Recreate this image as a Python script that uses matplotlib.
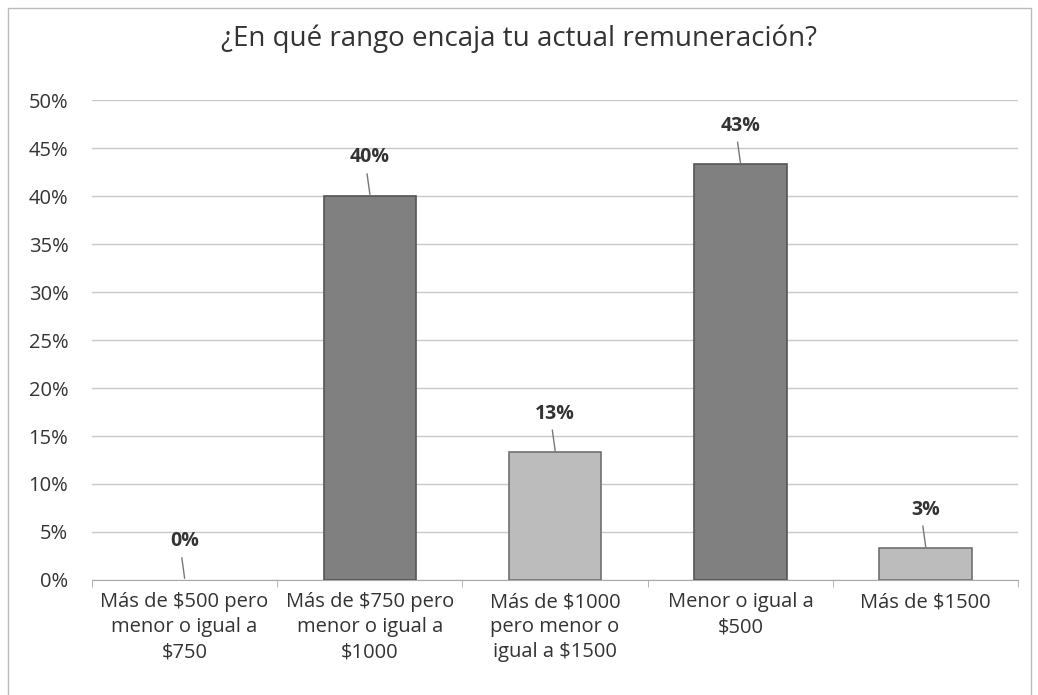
import matplotlib
matplotlib.use("Agg")
import matplotlib.pyplot as plt
from matplotlib.patches import Rectangle

categories = ["Más de $500 pero\nmenor o igual a\n$750",
              "Más de $750 pero\nmenor o igual a\n$1000",
              "Más de $1000\npero menor o\nigual a $1500",
              "Menor o igual a\n$500",
              "Más de $1500"]
values = [0.0, 40.0, 13.3, 43.3, 3.3]
labels = ["0%", "40%", "13%", "43%", "3%"]
bar_colors = ["#808080", "#808080", "#bcbcbc", "#808080", "#bcbcbc"]
edge_colors = ["#555555", "#555555", "#707070", "#555555", "#707070"]
yticks = [0, 5, 10, 15, 20, 25, 30, 35, 40, 45, 50]

plt.rcParams['font.family'] = ['Open Sans', 'DejaVu Sans']

fig = plt.figure(figsize=(10.38, 6.95), dpi=100)
ax = fig.add_axes([0.0886, 0.1655, 0.8924, 0.6905])

x = list(range(len(categories)))
lws = [0 if v == 0 else 1.2 for v in values]
ax.bar(x, values, width=0.5, color=bar_colors, edgecolor=edge_colors, linewidth=lws, zorder=3)

for xi, v, lab in zip(x, values, labels):
    ax.plot([xi, xi - 0.015], [v + 0.2, v + 2.3], color="#777777", lw=1.0, zorder=4)
    ax.text(xi, v + 3.0, lab, ha="center", va="bottom", fontsize=14, fontweight="bold", color="#333333")

ax.set_xlim(-0.5, len(categories) - 0.5)
ax.set_ylim(0, 50)
ax.set_yticks(yticks)
ax.set_yticklabels([f"{t}%" for t in yticks], fontsize=14.5, color="#333333")
ax.yaxis.grid(True, color="#c8c8c8", lw=1.0, zorder=0)
ax.set_axisbelow(True)
ax.tick_params(axis="y", length=0, pad=17)

ax.set_xticks(x)
ax.set_xticklabels(categories, fontsize=14.5, color="#333333", linespacing=1.32)
ax.tick_params(axis="x", length=0, pad=9)
ax.set_xticks([i - 0.5 for i in range(len(categories) + 1)], minor=True)
ax.tick_params(axis="x", which="minor", length=5, color="#aaaaaa")

for s in ["top", "right", "left"]:
    ax.spines[s].set_visible(False)
ax.spines["bottom"].set_color("#aaaaaa")

fig.text(0.5, 0.944, "¿En qué rango encaja tu actual remuneración?", ha="center", va="center",
         fontsize=20, color="#333333")

fig.patches.append(Rectangle((0.008, -0.01), 0.985, 0.998, transform=fig.transFigure,
                             fill=False, edgecolor="#bbbbbb", lw=1.0))

fig.savefig("out.png", dpi=100)
